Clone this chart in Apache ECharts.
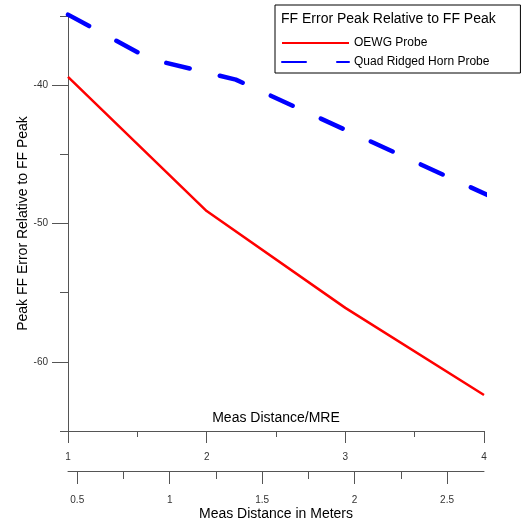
<!DOCTYPE html>
<html>
<head>
<meta charset="utf-8">
<script src="https://cdn.jsdelivr.net/npm/echarts@6/dist/echarts.min.js"></script>
<style>
  html, body { margin: 0; padding: 0; background: #fff; }
  #chart { width: 525px; height: 523px; }
</style>
</head>
<body>
<div id="chart"></div>
<script>
// x in MRE (meas distance / MRE)
const oewgX = [1, 2, 3, 4]
const oewgY = [-39.4, -49.1, -56.1, -62.4]
const hornX = [1, 1.59, 2.21, 4.06]
const hornY = [-34.9, -38.1, -39.6, -48.1]

const yLabelTicks = [-40, -50, -60]
const meterTicks = [0.5, 1, 1.5, 2, 2.5]
const meterMinorTicks = [0.75, 1.25, 1.75, 2.25]

const font = 'Liberation Sans, Arial, sans-serif'
const axisColor = '#555'

const pairs = (xs, ys) => xs.map((x, i) => [x, ys[i]])

let chart = echarts.init(document.getElementById('chart'))
chart.setOption({
  animation: false,
  textStyle: { fontFamily: font },
  title: {
    text: 'FF Error Peak Relative to FF Peak',
    left: 281,
    top: 12,
    padding: 0,
    textStyle: { fontSize: 14, fontWeight: 'normal', color: '#000' }
  },
  legend: {
    orient: 'vertical',
    left: 275,
    top: 5,
    padding: [32, 31, 5, 6],
    borderColor: '#000',
    borderWidth: 1,
    itemWidth: 67,
    itemHeight: 10,
    itemGap: 7,
    itemStyle: { opacity: 0 },
    textStyle: { fontSize: 12, color: '#000' },
    data: ['OEWG Probe', 'Quad Ridged Horn Probe']
  },
  grid: { left: 68, right: 41, top: 16, bottom: 92, containLabel: false, outerBoundsMode: 'none' },
  xAxis: [
    {
      type: 'value',
      min: 1,
      max: 4,
      interval: 1,
      position: 'bottom',
      name: 'Meas Distance/MRE',
      nameLocation: 'middle',
      nameGap: -20,
      nameMoveOverlap: false,
      nameTextStyle: { fontSize: 14, color: '#000' },
      axisLine: { lineStyle: { color: axisColor } },
      axisTick: { length: 12, lineStyle: { color: axisColor } },
      minorTick: { show: true, splitNumber: 2, length: 6, lineStyle: { color: axisColor } },
      axisLabel: { margin: 21, fontSize: 10, color: '#333' },
      splitLine: { show: false }
    },
    {
      type: 'value',
      min: 0.45,
      max: 2.7,
      position: 'bottom',
      offset: 40,
      name: 'Meas Distance in Meters',
      nameLocation: 'middle',
      nameGap: 36,
      nameMoveOverlap: false,
      nameTextStyle: { fontSize: 14, color: '#000' },
      axisLine: { lineStyle: { color: axisColor } },
      axisTick: { length: 13, customValues: meterTicks, lineStyle: { color: axisColor } },
      axisLabel: { margin: 24, fontSize: 10, color: '#333', customValues: meterTicks },
      splitLine: { show: false }
    },
    {
      type: 'value',
      min: 0.45,
      max: 2.7,
      position: 'bottom',
      offset: 40,
      axisLine: { show: false },
      axisTick: { length: 8, customValues: meterMinorTicks, lineStyle: { color: axisColor } },
      axisLabel: { show: false },
      splitLine: { show: false }
    }
  ],
  yAxis: [
    {
      type: 'value',
      min: -65,
      max: -35,
      interval: 5,
      name: 'Peak FF Error Relative to FF Peak',
      nameLocation: 'middle',
      nameGap: 38,
      nameMoveOverlap: false,
      nameTextStyle: { fontSize: 14, color: '#000' },
      axisLine: { show: true, lineStyle: { color: axisColor } },
      axisTick: { show: true, length: 8, lineStyle: { color: axisColor } },
      axisLabel: { show: false },
      splitLine: { show: false }
    },
    {
      type: 'value',
      min: -65,
      max: -35,
      position: 'left',
      axisLine: { show: false },
      axisTick: { show: true, length: 16, customValues: yLabelTicks, lineStyle: { color: axisColor } },
      axisLabel: { margin: 20, fontSize: 10, color: '#333', customValues: yLabelTicks },
      splitLine: { show: false }
    }
  ],
  series: [
    {
      name: 'OEWG Probe',
      type: 'line',
      xAxisIndex: 0,
      yAxisIndex: 0,
      symbol: 'none',
      clip: false,
      lineStyle: { color: '#ff0000', width: 2.5 },
      itemStyle: { color: '#ff0000' },
      data: pairs(oewgX, oewgY)
    },
    {
      name: 'Quad Ridged Horn Probe',
      type: 'line',
      xAxisIndex: 0,
      yAxisIndex: 0,
      symbol: 'none',
      clip: false,
      lineStyle: { color: '#0000ff', width: 4.5, type: [24, 31], cap: 'round' },
      itemStyle: { color: '#0000ff' },
      data: pairs(hornX, hornY)
    }
  ]
})
</script>
</body>
</html>
